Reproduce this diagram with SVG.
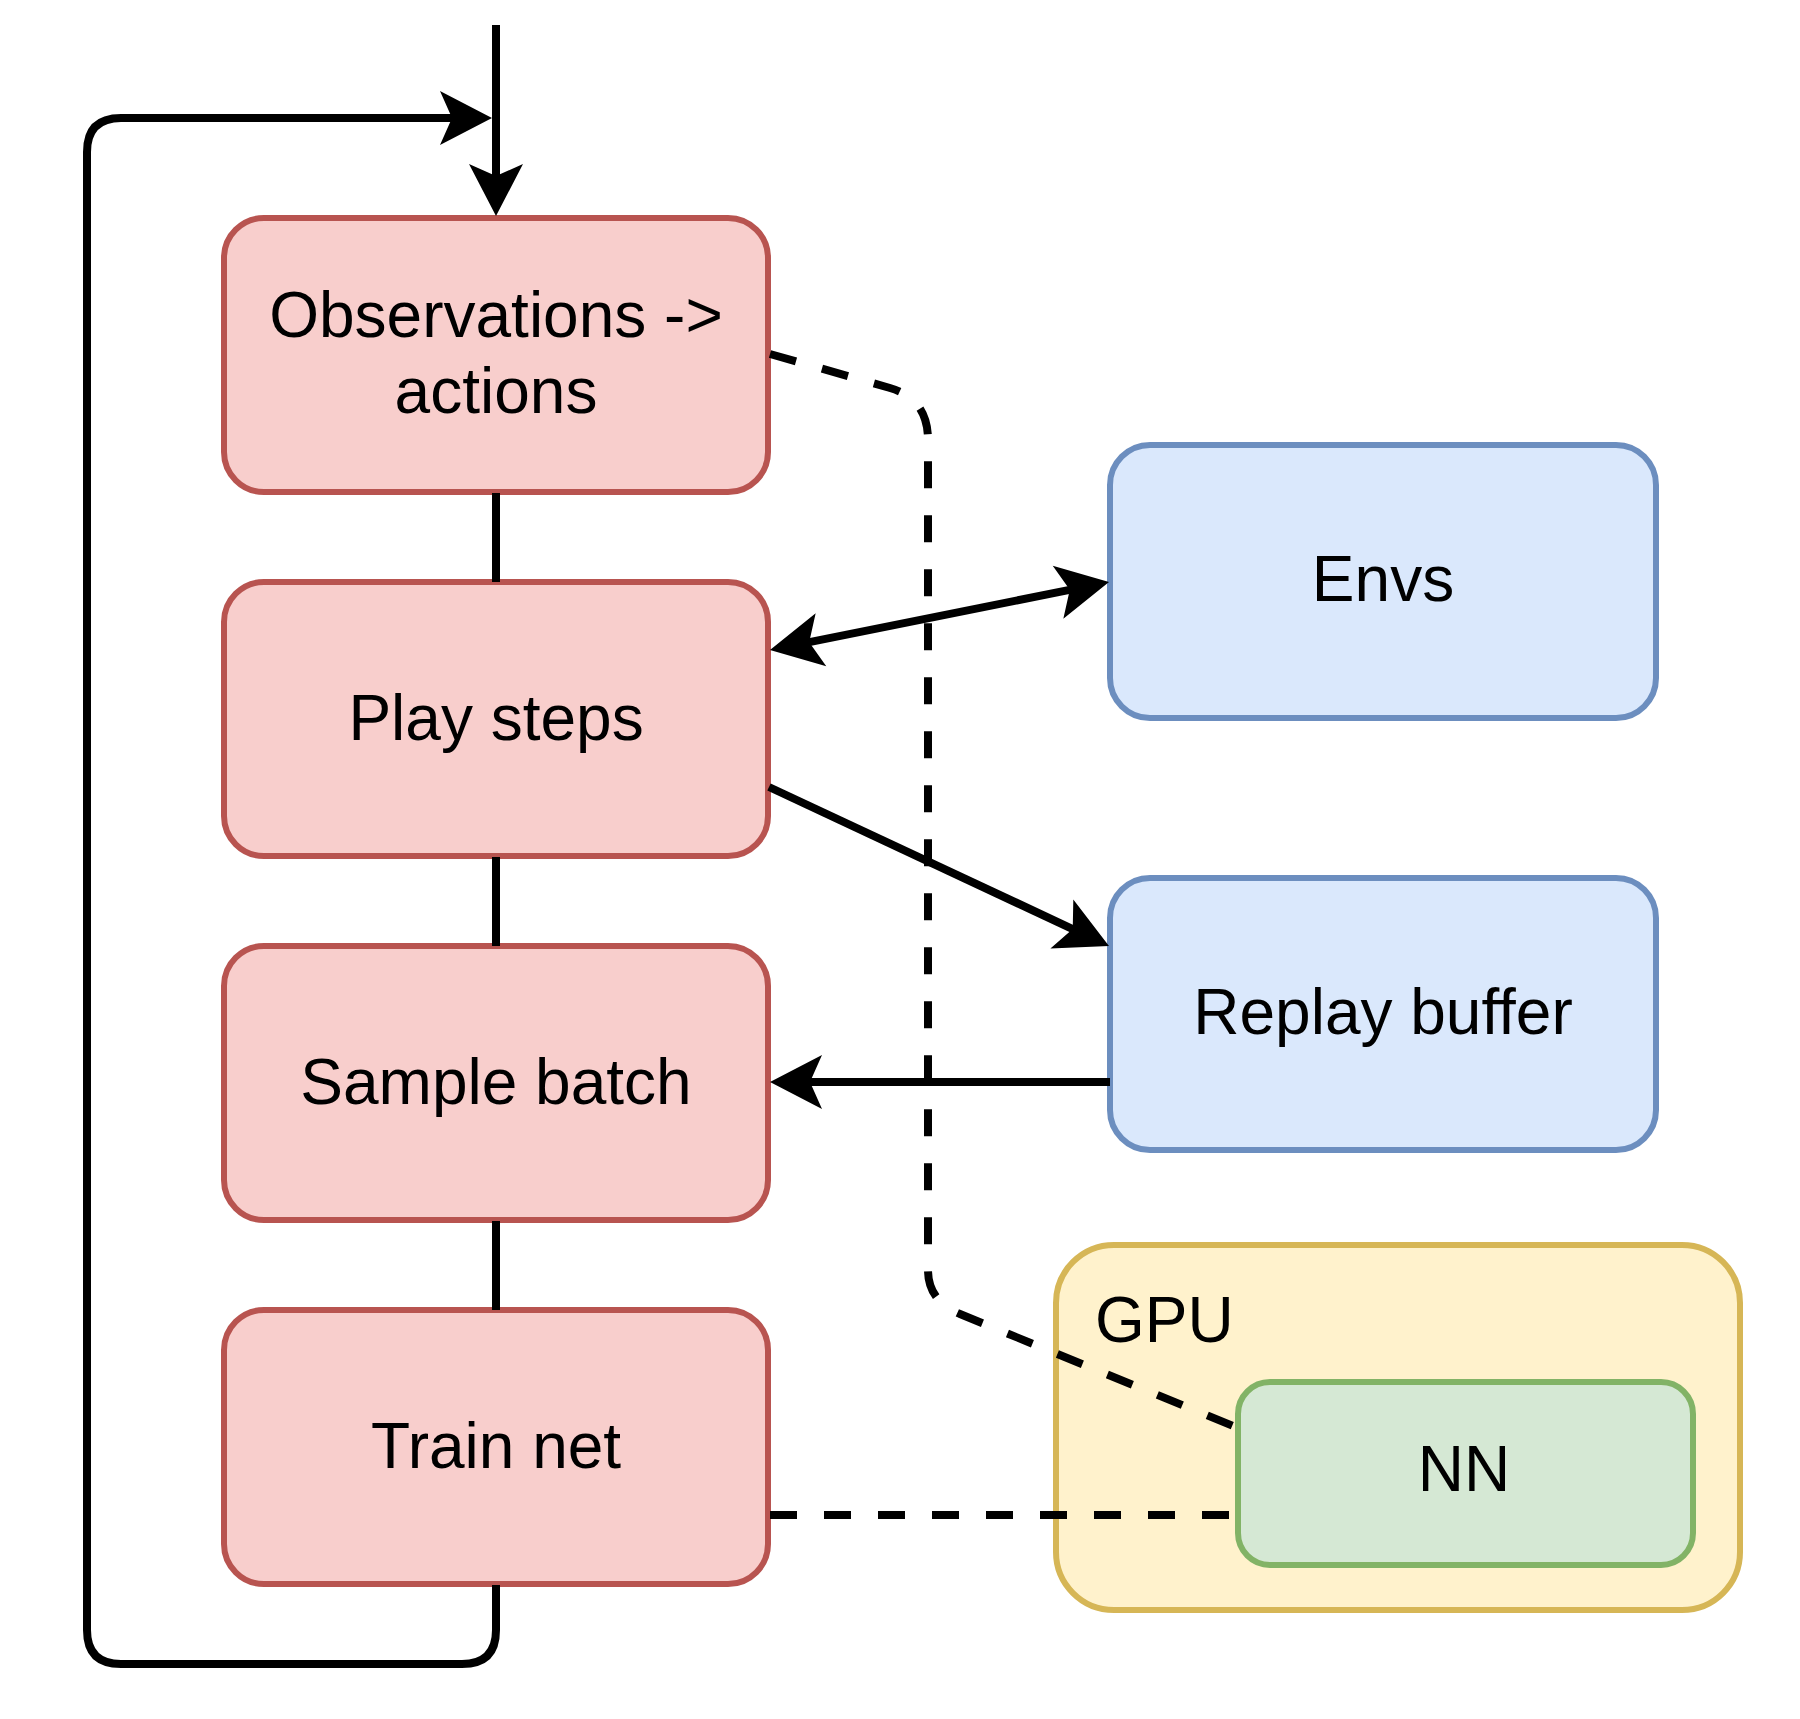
<svg xmlns="http://www.w3.org/2000/svg" width="1800" height="1719" viewBox="0 0 1800 1719">
<style>
.red{fill:#f8cecc;stroke:#b85450;stroke-width:6}
.blue{fill:#dae8fc;stroke:#6c8ebf;stroke-width:6}
.gpu{fill:#fff2cc;stroke:#d6b656;stroke-width:6}
.nn{fill:#d5e8d4;stroke:#82b366;stroke-width:6}
.lbl{font-family:"Liberation Sans",Arial,Helvetica,sans-serif;font-size:64px;fill:#000;text-anchor:middle}
.ln{fill:none;stroke:#000;stroke-width:8}
.dash{fill:none;stroke:#000;stroke-width:8;stroke-dasharray:27 27}
</style>
<defs>
<marker id="ah" markerUnits="userSpaceOnUse" orient="auto-start-reverse" refX="0" refY="0" markerWidth="60" markerHeight="60" overflow="visible">
<path d="M30,0 L-22,-27 L-10,0 L-22,27 Z" fill="#000"/>
</marker>
</defs>
<rect width="1800" height="1719" fill="#fff"/>
<g id="obs">
<rect class="red" x="224" y="218" width="544" height="274" rx="40"/>
<text class="lbl" x="496" y="337">Observations -&gt;</text>
<text class="lbl" x="496" y="413">actions</text>
</g>
<g id="play">
<rect class="red" x="224" y="582" width="544" height="274" rx="40"/>
<text class="lbl" x="496" y="740">Play steps</text>
</g>
<g id="sample">
<rect class="red" x="224" y="946" width="544" height="274" rx="40"/>
<text class="lbl" x="496" y="1104">Sample batch</text>
</g>
<g id="train">
<rect class="red" x="224" y="1310" width="544" height="274" rx="40"/>
<text class="lbl" x="496" y="1468">Train net</text>
</g>
<g id="envs">
<rect class="blue" x="1110" y="445" width="546" height="273" rx="40"/>
<text class="lbl" x="1383" y="601">Envs</text>
</g>
<g id="replay">
<rect class="blue" x="1110" y="878" width="546" height="272" rx="40"/>
<text class="lbl" x="1383" y="1034">Replay buffer</text>
</g>
<g id="gpu">
<rect class="gpu" x="1056" y="1245" width="684" height="365" rx="58"/>
<text class="lbl" x="1095" y="1342" style="text-anchor:start">GPU</text>
</g>
<g id="nn">
<rect class="nn" x="1238" y="1382" width="455" height="183" rx="32"/>
<text class="lbl" x="1464" y="1491">NN</text>
</g>
<g id="connectors">
<path class="ln" d="M496,25 L496,186" marker-end="url(#ah)"/>
<path class="ln" d="M496,1585 L496,1630 Q496,1664 462,1664 L121,1664 Q87,1664 87,1630 L87,152 Q87,118 121,118 L462,118" marker-end="url(#ah)"/>
<path class="ln" d="M496,493 L496,582"/>
<path class="ln" d="M496,857 L496,946"/>
<path class="ln" d="M496,1221 L496,1310"/>
<path class="ln" d="M799.4,644.1 L1079.6,587.9" marker-start="url(#ah)" marker-end="url(#ah)"/>
<path class="ln" d="M769,787 L1081.8,933.3" marker-end="url(#ah)"/>
<path class="ln" d="M1110,1082 L800,1082" marker-end="url(#ah)"/>
<path class="dash" d="M770,354 L890,388 Q928,399 928,440 L928,1270 Q928,1301 960,1314 L1238,1428"/>
<path class="dash" d="M770,1515 L1236,1515"/>
</g>
</svg>
